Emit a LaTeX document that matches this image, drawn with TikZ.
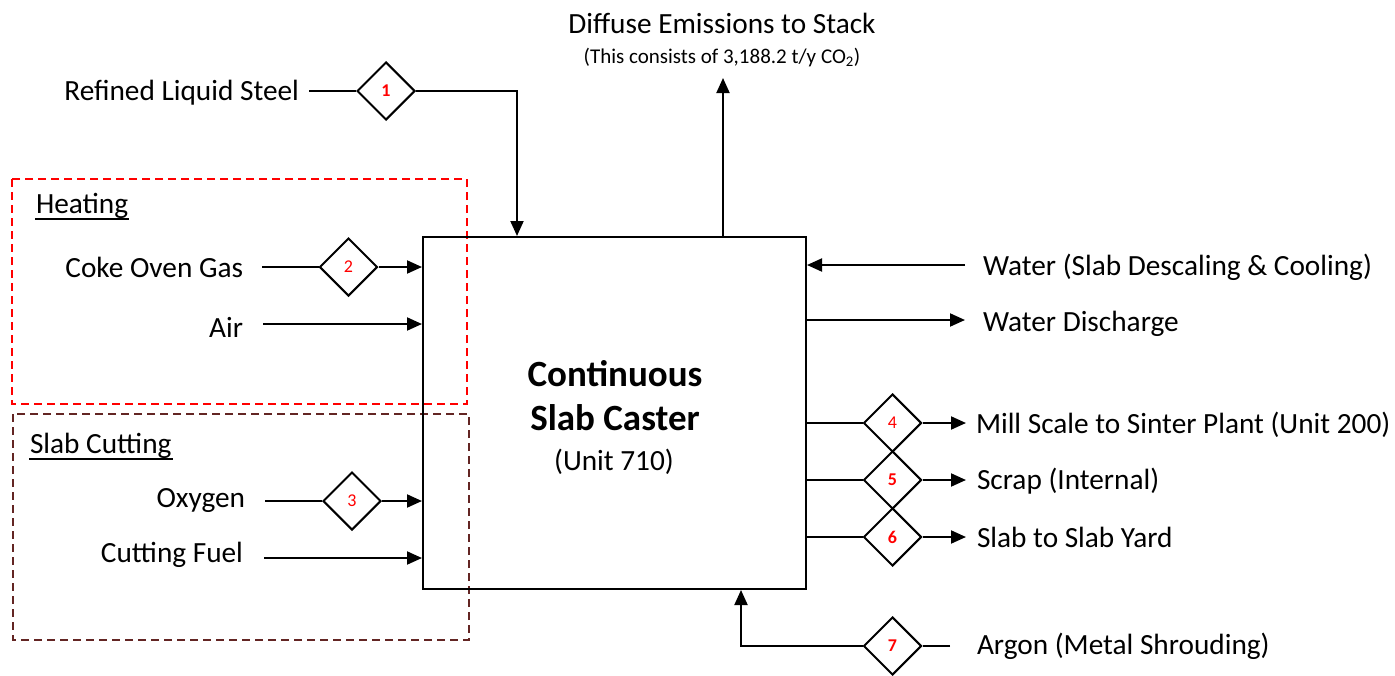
\documentclass[tikz,border=0pt]{standalone}
\usepackage{fontspec}
\setmainfont{Carlito}
\usetikzlibrary{shapes.geometric,arrows.meta,calc}
\definecolor{cutbrown}{RGB}{99,37,35}
\newcommand{\fsA}{\fontsize{29.3}{34}\selectfont}
\newcommand{\fsB}{\fontsize{21}{25}\selectfont}
\newcommand{\fsT}{\fontsize{37}{42}\selectfont\bfseries}
\newcommand{\fsN}{\fontsize{18}{20}\selectfont}
\begin{document}
\begin{tikzpicture}[x=1pt,y=-1pt,
  line width=2pt,
  flow/.style={line width=2pt},
  arr/.style={line width=2pt,-{Triangle[length=15pt,width=13pt]}},
  lab/.style={font=\fsA,inner sep=0pt},
  dia/.style={draw,shape=diamond,aspect=1,minimum size=58pt,inner sep=0pt,line width=2pt,fill=white,text=red,font=\fsN},
  grp/.style={dashed,dash pattern=on 8pt off 5pt,line width=2pt}]
\useasboundingbox (0,0) rectangle (1395,675);

% group boxes
\draw[grp,red] (12,179) rectangle (467,404);
\draw[grp,cutbrown] (13,414) rectangle (469,640);
\node[lab,anchor=base west] (heat) at (35,213) {Heating};
\draw[line width=1.6pt] (heat.south west) -- (heat.south east);
\node[lab,anchor=base west] (cut) at (29,453) {Slab Cutting};
\draw[line width=1.6pt] (cut.south west) -- (cut.south east);

% main box
\node[draw,line width=2pt,minimum width=383pt,minimum height=352pt,inner sep=0pt] (box) at (614.5,413) {};
\node[font=\fsT,anchor=base,inner sep=0pt] (t1) at (615,386) {Continuous};
\node[font=\fsT,anchor=base,inner sep=0pt] (t2) at (615,430) {Slab Caster};
\node[lab,anchor=base] (t3) at (614,470) {(Unit 710)};

% top
\node[lab,anchor=base] (emis) at (722,33) {Diffuse Emissions to Stack};
\node[font=\fsB,inner sep=0pt,anchor=base] (emis2) at (722,63) {(This consists of 3,188.2 t/y CO\textsubscript{2})};
\coordinate (bOut) at ([xshift=108.5pt]box.north);
\coordinate (emTop) at (723,78);
\draw[arr] (bOut) -- (emTop);

% refined liquid steel
\node[lab,anchor=base east] (rls) at (300,100) {Refined Liquid Steel};
\node[dia,font=\fsN\bfseries] (d1) at (386,91) {1};
\coordinate (rlsS) at (309,91);
\coordinate (bIn) at ([xshift=-97.5pt]box.north);
\draw[flow] (rlsS) -- (d1.west);
\draw[arr] (d1.east) -| (bIn);

% coke oven gas
\node[lab,anchor=base east] (cog) at (244,277) {Coke Oven Gas};
\node[dia] (d2) at (348.5,267) {2};
\coordinate (cogS) at (262,267);
\draw[flow] (cogS) -- (d2.west);
\draw[arr] (d2.east) -- (d2.east -| box.west);

% air
\node[lab,anchor=base east] (air) at (244,337) {Air};
\coordinate (airS) at (263,324);
\draw[arr] (airS) -- (airS -| box.west);

% oxygen
\node[lab,anchor=base east] (oxy) at (246,507) {Oxygen};
\node[dia] (d3) at (352,501) {3};
\coordinate (oxyS) at (265,501);
\draw[flow] (oxyS) -- (d3.west);
\draw[arr] (d3.east) -- (d3.east -| box.west);

% cutting fuel
\node[lab,anchor=base east] (fuel) at (244,562) {Cutting Fuel};
\coordinate (fuelS) at (264,558);
\draw[arr] (fuelS) -- (fuelS -| box.west);

% water in
\node[lab,anchor=base west] (win) at (982,275) {Water (Slab Descaling \& Cooling)};
\coordinate (winS) at (965,265);
\draw[arr] (winS) -- (winS -| box.east);

% water discharge
\node[lab,anchor=base west] (wout) at (982,331) {Water Discharge};
\coordinate (woutE) at (965,320);
\draw[arr] (woutE -| box.east) -- (woutE);

% outputs 4-6
\node[dia] (d4) at (892.5,423) {4};
\node[dia,font=\fsN\bfseries] (d5) at (892.5,480) {5};
\node[dia,font=\fsN\bfseries] (d6) at (892.5,537) {6};
\node[lab,anchor=base west] (o4) at (975,433) {Mill Scale to Sinter Plant (Unit 200)};
\node[lab,anchor=base west] (o5) at (976,489) {Scrap (Internal)};
\node[lab,anchor=base west] (o6) at (976,547) {Slab to Slab Yard};
\coordinate (o4E) at (966,423);
\coordinate (o5E) at (966,480);
\coordinate (o6E) at (966,537);
\draw[flow] (d4.west -| box.east) -- (d4.west);
\draw[flow] (d5.west -| box.east) -- (d5.west);
\draw[flow] (d6.west -| box.east) -- (d6.west);
\draw[arr] (d4.east) -- (o4E);
\draw[arr] (d5.east) -- (o5E);
\draw[arr] (d6.east) -- (o6E);

% argon
\node[lab,anchor=base west] (arg) at (976,654) {Argon (Metal Shrouding)};
\node[dia,font=\fsN\bfseries] (d7) at (892.5,646) {7};
\coordinate (argS) at (950,646);
\coordinate (bArg) at ([xshift=126.5pt]box.south);
\draw[flow] (argS) -- (d7.east);
\draw[arr] (d7.west) -| (bArg);
\end{tikzpicture}
\end{document}
